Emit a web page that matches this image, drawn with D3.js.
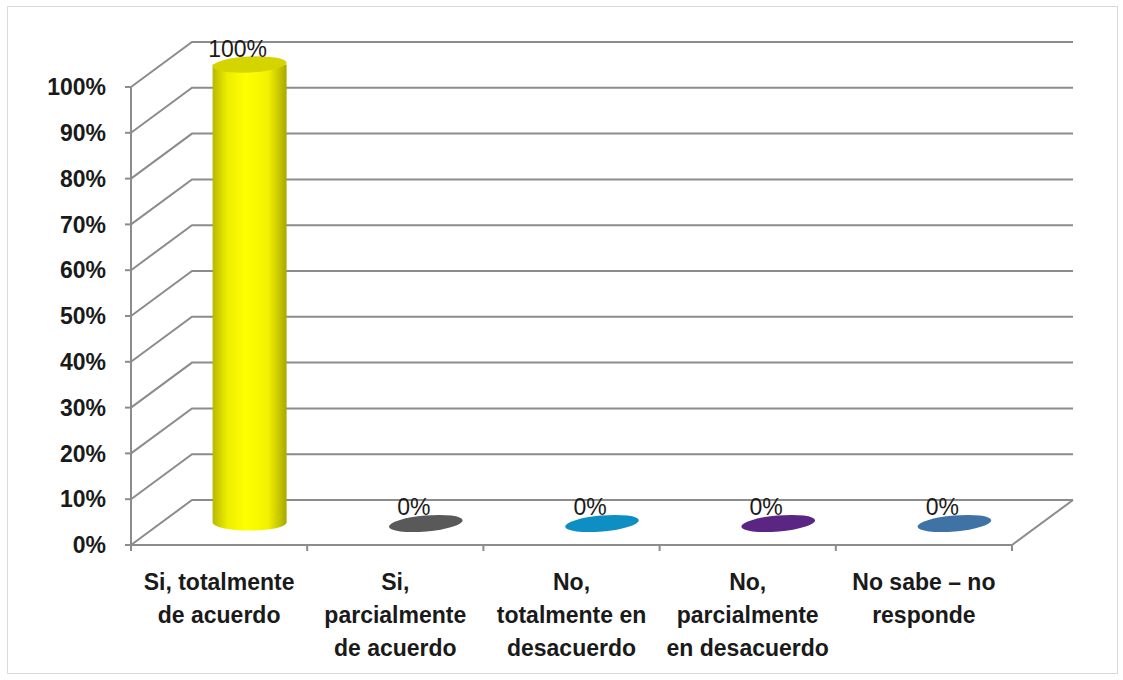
<!DOCTYPE html>
<html lang="es">
<head>
    <meta charset="UTF-8">
    <title>Grafico cilindros 3D</title>
    <script src="https://d3js.org/d3.v7.min.js"></script>
    <style>
        body { margin: 0; background: #fff; font-family: "Liberation Sans", Arial, sans-serif; }
    </style>
</head>
<body>
    <svg id="chart" width="1123" height="680"></svg>
    <script>
        // Data
        const categories = [
            ["Si, totalmente", "de acuerdo"],
            ["Si,", "parcialmente", "de acuerdo"],
            ["No,", "totalmente en", "desacuerdo"],
            ["No,", "parcialmente", "en desacuerdo"],
            ["No sabe \u2013 no", "responde"]
        ];
        const values = [1, 0, 0, 0, 0];
        const colors = ["#ffff00", "#595959", "#0e8fc3", "#5b2583", "#3f73a6"];
        const tickValues = [0, 0.1, 0.2, 0.3, 0.4, 0.5, 0.6, 0.7, 0.8, 0.9, 1];

        const svg = d3.select("#chart");
        const fmt = d3.format(".0%");

        // 3D depth offset of back wall
        const dx = 61, dy = -45;

        const keys = categories.map((c, i) => i);
        const x = d3.scaleBand().domain(keys).range([131, 1012]);
        const y = d3.scaleLinear().domain([0, 1]).range([545, 87]);

        // outer border
        svg.append("rect")
            .attr("x", 7.5).attr("y", 6.5)
            .attr("width", 1110).attr("height", 667)
            .attr("fill", "none").attr("stroke", "#d9d9d9");

        const grid = svg.append("g")
            .attr("stroke", "#8c8c8c")
            .attr("stroke-width", 2)
            .attr("fill", "none");

        // gridlines: left wall diagonal + back wall horizontal
        tickValues.forEach(t => {
            grid.append("path")
                .attr("d", `M${x.range()[0]},${y(t)} L${x.range()[0] + dx},${y(t) + dy} L${x.range()[1] + dx},${y(t) + dy}`);
        });
        // floor: front edge and right edge
        grid.append("path")
            .attr("d", `M${x.range()[0]},${y(0)} L${x.range()[1]},${y(0)} L${x.range()[1] + dx},${y(0) + dy}`);
        // vertical axis line
        grid.append("line")
            .attr("x1", x.range()[0]).attr("x2", x.range()[0])
            .attr("y1", y(0)).attr("y2", y(1));
        // y ticks
        tickValues.forEach(t => {
            grid.append("line")
                .attr("x1", x.range()[0] - 6).attr("x2", x.range()[0])
                .attr("y1", y(t)).attr("y2", y(t));
        });
        // category ticks
        keys.concat([keys.length]).forEach(i => {
            const xx = i < keys.length ? x(i) : x.range()[1];
            grid.append("line")
                .attr("x1", xx).attr("x2", xx)
                .attr("y1", y(0)).attr("y2", y(0) + 6);
        });

        // y labels
        svg.append("g").selectAll("text")
            .data(tickValues)
            .join("text")
            .attr("x", 106)
            .attr("y", d => y(d))
            .attr("dy", "0.36em")
            .attr("text-anchor", "end")
            .attr("font-size", 23)
            .attr("font-weight", "bold")
            .attr("fill", "#1a1a1a")
            .text(d => fmt(d));

        // category labels
        const catG = svg.append("g");
        categories.forEach((lines, i) => {
            const t = catG.append("text")
                .attr("x", x(i) + x.bandwidth() / 2)
                .attr("y", 590)
                .attr("text-anchor", "middle")
                .attr("font-size", 23)
                .attr("font-weight", "bold")
                .attr("fill", "#1a1a1a");
            lines.forEach((ln, j) => {
                t.append("tspan")
                    .attr("x", x(i) + x.bandwidth() / 2)
                    .attr("dy", j === 0 ? 0 : 33)
                    .text(ln);
            });
        });

        // gradient for yellow cylinder
        const defs = svg.append("defs");
        const grad = defs.append("linearGradient").attr("id", "cyl").attr("x1", "0").attr("x2", "1");
        grad.append("stop").attr("offset", "0%").attr("stop-color", "#b8b800");
        grad.append("stop").attr("offset", "20%").attr("stop-color", "#eeee00");
        grad.append("stop").attr("offset", "45%").attr("stop-color", "#ffff00");
        grad.append("stop").attr("offset", "75%").attr("stop-color", "#f2f200");
        grad.append("stop").attr("offset", "100%").attr("stop-color", "#a8a800");

        const rx = 37, ry = 8;
        const bars = svg.append("g");
        values.forEach((v, i) => {
            const cx = x(i) + x.bandwidth() / 2 + dx / 2;
            const yb = y(0) + dy / 2;
            const yt = y(v) + dy / 2;
            if (v > 0) {
                bars.append("path")
                    .attr("d", `M${cx - rx},${yt} L${cx - rx},${yb} A${rx},${ry} 0 0 0 ${cx + rx},${yb} L${cx + rx},${yt} Z`)
                    .attr("fill", "url(#cyl)");
                bars.append("ellipse")
                    .attr("cx", cx).attr("cy", yt)
                    .attr("rx", rx).attr("ry", ry)
                    .attr("transform", `rotate(-3 ${cx} ${yt})`)
                    .attr("fill", "#d4d400");
            } else {
                bars.append("ellipse")
                    .attr("cx", cx).attr("cy", yb + 1)
                    .attr("rx", rx).attr("ry", ry)
                    .attr("transform", `rotate(-5 ${cx} ${yb + 1})`)
                    .attr("fill", colors[i]);
            }
            // data label
            bars.append("text")
                .attr("x", cx - 12)
                .attr("y", yt - 16)
                .attr("dy", "0.36em")
                .attr("text-anchor", "middle")
                .attr("font-size", 23)
                .attr("fill", "#1a1a1a")
                .text(fmt(v));
        });
    </script>
</body>
</html>
